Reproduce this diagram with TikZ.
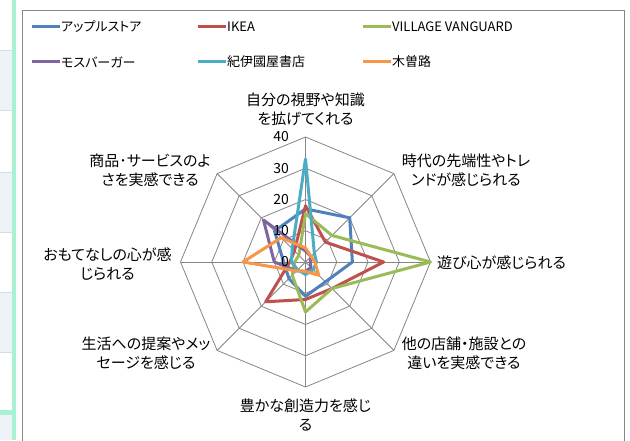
\documentclass[tikz,border=0pt]{standalone}
\usepackage{fontspec}
\setmainfont[RawFeature=+palt]{Noto Sans CJK JP}
\definecolor{sBlue}{HTML}{4F81BD}
\definecolor{sRed}{HTML}{C0504D}
\definecolor{sGreen}{HTML}{9BBB59}
\definecolor{sPurple}{HTML}{8064A2}
\definecolor{sCyan}{HTML}{4BACC6}
\definecolor{sOrange}{HTML}{F79646}
\definecolor{gridgray}{HTML}{868686}
\definecolor{cellblue}{HTML}{EEF3F8}
\definecolor{cellline}{HTML}{D5DEE6}
\definecolor{mint}{HTML}{A8F2D4}
\tikzset{
  gridline/.style={draw=gridgray, line width=0.8pt},
  series/.style={line width=3pt, line join=round},
  legline/.style={line width=3pt},
  legtext/.style={anchor=west, inner sep=0pt, font=\fontsize{13}{15}\selectfont},
  axlabel/.style={align=center, inner sep=0pt, font=\fontsize{15}{19}\selectfont},
  numlabel/.style={anchor=east, inner sep=0pt, font=\fontsize{14}{16}\selectfont},
}
\begin{document}
\begin{tikzpicture}[x=1pt,y=1pt]
\useasboundingbox (0,0) rectangle (630,440);
% spreadsheet background at left
\fill[white] (0,0) rectangle (630,440);
\fill[cellblue] (0,390) rectangle (12,330);
\fill[cellblue] (0,268) rectangle (12,208);
\fill[cellblue] (0,148) rectangle (12,88);
\fill[cellblue] (0,25) rectangle (12,0);
\foreach \yy in {390,330,268,208,148,88} \draw[cellline, line width=0.8pt] (0,\yy) -- (12,\yy);
\fill[mint] (0,30) rectangle (16,25);
\fill[mint] (12,0) rectangle (16,440);
% chart frame
\draw[gridgray, line width=0.8pt, fill=white] (22,430) rectangle (624,-5);
% legend
\draw[legline, sBlue] (32,413) coordinate (l1a) -- (60,413) coordinate (l1b);
\node[legtext] (t1) at (61,413) {アップルストア};
\draw[legline, sRed] (198,413) coordinate (l2a) -- (226,413) coordinate (l2b);
\node[legtext] (t2) at (227,413) {IKEA};
\draw[legline, sGreen] (363,413) coordinate (l3a) -- (391,413) coordinate (l3b);
\node[legtext] (t3) at (392,413) {VILLAGE VANGUARD};
\draw[legline, sPurple] (32,378) coordinate (l4a) -- (60,378) coordinate (l4b);
\node[legtext] (t4) at (61,378) {モスバーガー};
\draw[legline, sCyan] (198,378) coordinate (l5a) -- (226,378) coordinate (l5b);
\node[legtext] (t5) at (227,378) {紀伊國屋書店};
\draw[legline, sOrange] (363,378) coordinate (l6a) -- (391,378) coordinate (l6b);
\node[legtext] (t6) at (392,378) {木曽路};
% radar
\begin{scope}[shift={(305.5,178)}, x=3.125pt, y=3.125pt]
  \coordinate (ctr) at (0,0);
  \foreach \r in {10,20,30,40}
    \draw[gridline] (90:\r) -- (45:\r) -- (0:\r) -- (-45:\r) -- (-90:\r) -- (-135:\r) -- (180:\r) -- (135:\r) -- cycle;
  \foreach \a in {90,45,0,-45,-90,-135,180,135}
    \draw[gridline] (ctr) -- (\a:40);
  % series
  \draw[series, sBlue]   (90:17) -- (45:20) -- (0:15) -- (-45:9) -- (-90:11) -- (-135:7.5) -- (180:7) -- (135:14) -- cycle;
  \draw[series, sRed]    (90:18) -- (45:9) -- (0:25) -- (-45:12) -- (-90:12) -- (-135:18) -- (180:5) -- (135:5) -- cycle;
  \draw[series, sGreen]  (90:15.5) -- (45:12) -- (0:40) -- (-45:12) -- (-90:16) -- (-135:6) -- (180:3.5) -- (135:3) -- cycle;
  \draw[series, sPurple] (90:3.5) -- (45:2.5) -- (0:1.5) -- (-45:2.5) -- (-90:3) -- (-135:4) -- (180:10) -- (135:19) -- cycle;
  \draw[series, sCyan]   (90:33) -- (45:4) -- (0:3.5) -- (-45:3.5) -- (-90:4) -- (-135:3.5) -- (180:4.5) -- (135:6) -- cycle;
  \draw[series, sOrange] (90:4.5) -- (45:2.5) -- (0:3) -- (-45:6) -- (-90:3) -- (-135:4) -- (180:20) -- (135:11) -- cycle;
\end{scope}
% value labels
\node[numlabel] (n0) at (289,178) {0};
\node[numlabel] (n10) at (289,209.25) {10};
\node[numlabel] (n20) at (289,240.5) {20};
\node[numlabel] (n30) at (289,271.75) {30};
\node[numlabel] (n40) at (289,303) {40};
% axis labels
\node[axlabel] (a0) at (305.5,330.5) {自分の視野や知識\\を拡げてくれる};
\node[axlabel] (a1) at (466,270) {時代の先端性やトレ\\ンドが感じられる};
\node[axlabel, anchor=west] (a2) at (437,177.3) {遊び心が感じられる};
\node[axlabel] (a3) at (464,87) {他の店舗・施設との\\違いを実感できる};
\node[axlabel] (a4) at (305.5,25) {豊かな創造力を感じ\\る};
\node[axlabel] (a5) at (146,87) {生活への提案やメッ\\セージを感じる};
\node[axlabel] (a6) at (107.5,176) {おもてなしの心が感\\じられる};
\node[axlabel] (a7) at (150,270) {商品･サービスのよ\\さを実感できる};
\end{tikzpicture}
\end{document}
